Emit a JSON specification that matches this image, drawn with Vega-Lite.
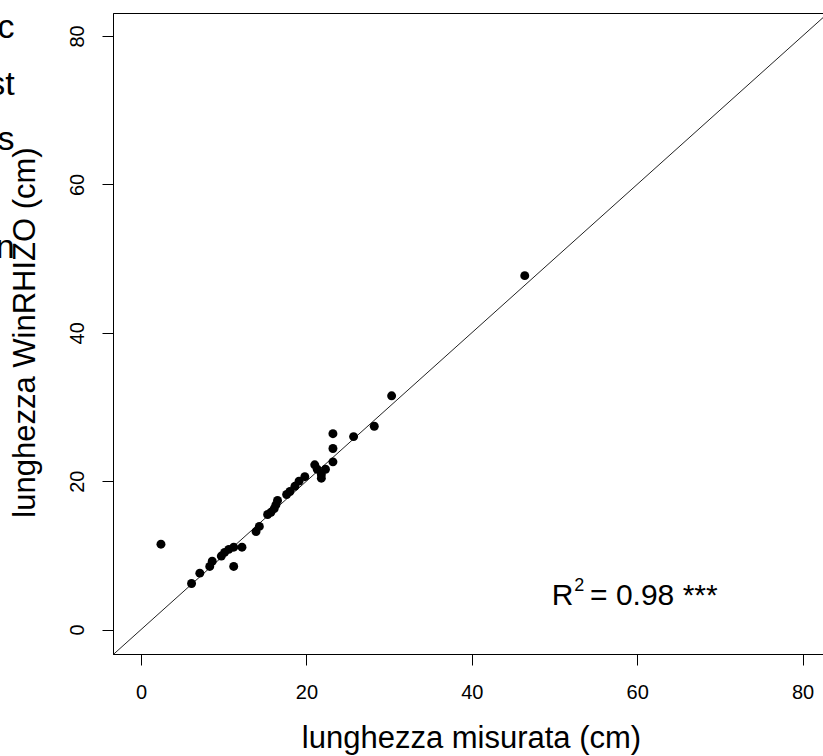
{
  "$schema": "https://vega.github.io/schema/vega-lite/v6.json",
  "width": 716,
  "height": 641,
  "autosize": {"type": "none"},
  "padding": {"left": 113, "top": 13, "right": 0, "bottom": 102},
  "background": "white",
  "config": {
    "view": {"stroke": "black", "strokeWidth": 1},
    "axis": {
      "grid": false,
      "domainColor": "black",
      "tickColor": "black",
      "labelColor": "black",
      "titleColor": "black",
      "labelFont": "Liberation Sans",
      "titleFont": "Liberation Sans",
      "labelFontSize": 20,
      "titleFontSize": 31,
      "titleFontWeight": "normal",
      "tickSize": 11,
      "domainWidth": 1,
      "tickWidth": 1
    }
  },
  "datasets": {
    "diag": [{"x": -3.4, "y": -3.4}, {"x": 90, "y": 90}],
    "points": [
      {"x": 2.4, "y": 11.5}, {"x": 6.1, "y": 6.2}, {"x": 7.1, "y": 7.6}, {"x": 8.3, "y": 8.5},
      {"x": 8.6, "y": 9.2}, {"x": 9.7, "y": 9.9}, {"x": 10.1, "y": 10.4}, {"x": 10.6, "y": 10.8},
      {"x": 11.2, "y": 11.1}, {"x": 12.2, "y": 11.1}, {"x": 11.2, "y": 8.5}, {"x": 13.9, "y": 13.2},
      {"x": 14.3, "y": 13.9}, {"x": 15.3, "y": 15.5}, {"x": 15.7, "y": 15.8}, {"x": 16.1, "y": 16.3},
      {"x": 16.3, "y": 16.8}, {"x": 16.5, "y": 17.4}, {"x": 17.6, "y": 18.2}, {"x": 18.0, "y": 18.6},
      {"x": 18.6, "y": 19.3}, {"x": 19.1, "y": 20.0}, {"x": 19.8, "y": 20.6}, {"x": 21.0, "y": 22.2},
      {"x": 21.3, "y": 21.6}, {"x": 21.8, "y": 20.9}, {"x": 22.3, "y": 21.6}, {"x": 21.8, "y": 20.4},
      {"x": 23.2, "y": 22.6}, {"x": 23.2, "y": 24.4}, {"x": 23.2, "y": 26.4}, {"x": 25.7, "y": 26.0},
      {"x": 28.2, "y": 27.4}, {"x": 30.3, "y": 31.5}, {"x": 46.4, "y": 47.7}
    ],
    "r2": [{"x": 49.66, "y": 3.29, "t": "R"}],
    "sup": [{"x": 52.4, "y": 5.2, "t": "2"}],
    "val": [{"x": 54.3, "y": 3.29, "t": "= 0.98 ***"}],
    "frag": [
      {"x": -15.3, "y": 79.7, "t": "c"},
      {"x": -15.3, "y": 72.1, "t": "st"},
      {"x": -15.3, "y": 64.7, "t": "s"},
      {"x": -15.3, "y": 50.1, "t": "n"}
    ]
  },
  "encoding": {
    "x": {
      "field": "x",
      "type": "quantitative",
      "scale": {"domain": [-3.4, 83.2], "nice": false, "zero": false},
      "axis": {
        "values": [0, 20, 40, 60, 80],
        "title": "lunghezza misurata (cm)",
        "labelPadding": 17,
        "labelBaseline": "top",
        "titleBaseline": "alphabetic",
        "titleAlign": "center",
        "titleX": 358,
        "titleY": 93
      }
    },
    "y": {
      "field": "y",
      "type": "quantitative",
      "scale": {"domain": [-3.3, 83.1], "nice": false, "zero": false},
      "axis": {
        "values": [0, 20, 40, 60, 80],
        "title": "lunghezza WinRHIZO (cm)",
        "labelAngle": -90,
        "labelAlign": "center",
        "labelBaseline": "alphabetic",
        "labelPadding": 19,
        "titleAngle": -90,
        "titleAlign": "center",
        "titleBaseline": "alphabetic",
        "titleX": -79,
        "titleY": 319
      }
    }
  },
  "layer": [
    {
      "data": {"name": "diag"},
      "mark": {"type": "line", "color": "#222222", "strokeWidth": 1, "clip": true}
    },
    {
      "data": {"name": "points"},
      "mark": {"type": "point", "filled": true, "color": "black", "size": 80, "opacity": 1}
    },
    {
      "data": {"name": "r2"},
      "mark": {"type": "text", "align": "left", "baseline": "alphabetic", "fontSize": 30, "font": "Liberation Sans", "color": "black"},
      "encoding": {"text": {"field": "t"}}
    },
    {
      "data": {"name": "sup"},
      "mark": {"type": "text", "align": "left", "baseline": "alphabetic", "fontSize": 18, "font": "Liberation Sans", "color": "black"},
      "encoding": {"text": {"field": "t"}}
    },
    {
      "data": {"name": "val"},
      "mark": {"type": "text", "align": "left", "baseline": "alphabetic", "fontSize": 30, "font": "Liberation Sans", "color": "black"},
      "encoding": {"text": {"field": "t"}}
    },
    {
      "data": {"name": "frag"},
      "mark": {"type": "text", "align": "right", "baseline": "alphabetic", "fontSize": 34, "font": "Liberation Sans", "color": "black"},
      "encoding": {"text": {"field": "t"}}
    }
  ]
}
